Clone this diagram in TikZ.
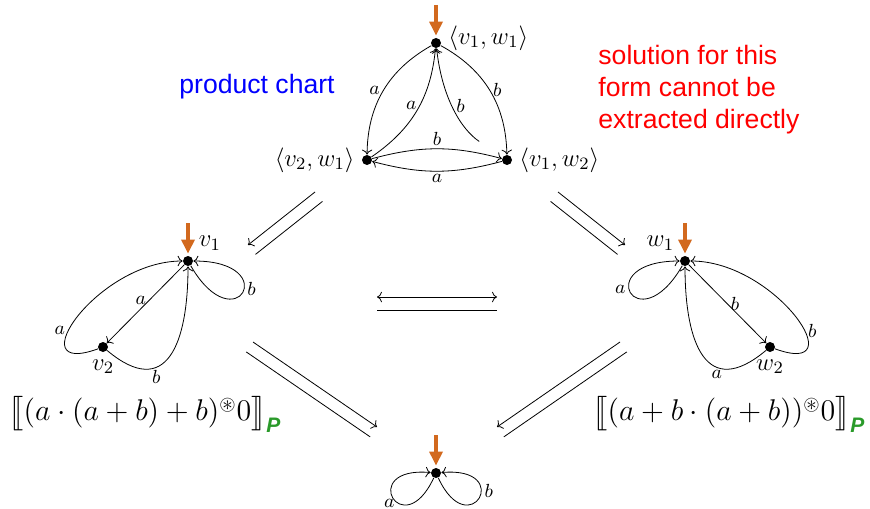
\RequirePackage{fix-cm}
\documentclass[tikz,border=0pt]{standalone}
\usepackage{amsmath,amssymb,stmaryrd}
\usepackage{fontspec}
\setsansfont{Liberation Sans}
\usepackage{xcolor}
\usepackage{tikz}
\usetikzlibrary{arrows.meta,calc}
\definecolor{PCOrange}{HTML}{D2691E}
\definecolor{PCGreen} {HTML}{2A9A2A}
\definecolor{PCBlue}  {HTML}{0000FF}
\definecolor{PCRed}   {HTML}{FF0000}
\newcommand{\pmark}{\text{\sffamily\bfseries\itshape\color{PCGreen}P}}

\begin{document}
\begin{tikzpicture}[x=0.5pt,y=-0.5pt,
    state/.style={circle,fill=black,inner sep=0pt,minimum size=5pt},
    init/.style={PCOrange,line width=1.6pt,-{Triangle[width=6.5pt,length=7pt]},shorten >=1pt},
    tr/.style={->},
    lbl/.style={font=\fontsize{9.5}{11}\selectfont,inner sep=1.5pt},
    nlbl/.style={font=\fontsize{12.4}{15}\selectfont},
    sol/.style={font=\fontsize{15}{18}\selectfont},
    note/.style={font=\sffamily\fontsize{13.3}{16}\selectfont},
  ]
  \useasboundingbox (0,0) rectangle (870,508);

  % product chart
  \node[state,label={[nlbl,yshift=2.5pt]right:$\langle v_1,w_1\rangle$}] (n11) at (436,43) {};
  \node[state,label={[nlbl]left:$\langle v_2,w_1\rangle$}] (n21) at (367,160) {};
  \node[state,label={[nlbl]right:$\langle v_1,w_2\rangle$}] (n12) at (507,160) {};
  \draw[init] ([yshift=19pt]n11.center) -- (n11);
  \draw[tr] (n11) to[bend right=30] node[lbl,left] {$a$} (n21);
  \draw[tr] (n21) to[bend right=25] node[lbl,left,pos=.55] {$a$} (n11);
  \draw[tr,shorten <=14pt] (n12) to[bend left=25] node[lbl,right,pos=.55] {$b$} (n11);
  \draw[tr] (n11) to[bend left=30] node[lbl,right] {$b$} (n12);
  \draw[tr] (n21) to[bend left=15] node[lbl,above] {$b$} (n12);
  \draw[tr] (n12) to[bend left=15] node[lbl,below] {$a$} (n21);

  % left chart
  \node[state,label={[nlbl]above right:$v_1$}] (v1) at (188,261) {};
  \node[state,label={[nlbl]below:$v_2$}] (v2) at (103,347) {};
  \draw[init] ([yshift=19pt]v1.center) -- (v1);
  \draw[tr] (v1) -- node[lbl,left,pos=.45] {$a$} (v2);
  \draw[tr] (v2) to[out=200,in=180,looseness=1.8] node[lbl,left,pos=.4] {$a$} (v1);
  \draw[tr] (v2) to[out=-40,in=-90,looseness=1.7] node[lbl,below,pos=.35] {$b$} (v1);
  \draw[tr] (v1) to[out=-60,in=0,min distance=45pt] node[lbl,right,pos=.55] {$b$} (v1);

  % right chart
  \node[state,label={[nlbl]above left:$w_1$}] (w1) at (685,261) {};
  \node[state,label={[nlbl]below:$w_2$}] (w2) at (770,347) {};
  \draw[init] ([yshift=19pt]w1.center) -- (w1);
  \draw[tr] (w1) -- node[lbl,right] {$b$} (w2);
  \draw[tr] (w2) to[out=-20,in=0,looseness=1.8] node[lbl,right,pos=.4] {$b$} (w1);
  \draw[tr] (w2) to[out=220,in=270,looseness=1.7] node[lbl,below,pos=.35] {$a$} (w1);
  \draw[tr] (w1) to[out=240,in=180,min distance=45pt] node[lbl,left,pos=.55] {$a$} (w1);

  % result
  \node[state] (r0) at (436,473) {};
  \draw[init] ([yshift=19pt]r0.center) -- (r0);
  \draw[tr] (r0) to[out=245,in=175,min distance=37pt] node[lbl,left,pos=.4] {$a$} (r0);
  \draw[tr] (r0) to[out=-65,in=5,min distance=37pt] node[lbl,right,pos=.6] {$b$} (r0);

  % implications
  \coordinate (ulA) at (315,192); \coordinate (ulB) at (248,245);
  \coordinate (urA) at (558,192); \coordinate (urB) at (625,245);
  \coordinate (llA) at (253,342); \coordinate (llB) at (377,427);
  \coordinate (lrA) at (620,342); \coordinate (lrB) at (497,427);
  \coordinate (mA) at (377,297);  \coordinate (mB) at (497,297);
  \draw[->] (ulA) -- (ulB);
  \draw ($(ulA)!6pt!90:(ulB)$) -- ($(ulB)!6pt!-90:(ulA)$);
  \draw[->] (urA) -- (urB);
  \draw ($(urA)!6pt!-90:(urB)$) -- ($(urB)!6pt!90:(urA)$);
  \draw[->] (llA) -- (llB);
  \draw ($(llA)!6pt!-90:(llB)$) -- ($(llB)!6pt!90:(llA)$);
  \draw[->] (lrA) -- (lrB);
  \draw ($(lrA)!6pt!90:(lrB)$) -- ($(lrB)!6pt!-90:(lrA)$);
  \draw[<->] (mA) -- (mB);
  \draw ($(mA)!6.5pt!-90:(mB)$) -- ($(mB)!6.5pt!90:(mA)$);

  % texts
  \node[note,text=PCBlue] (title) at (257,87) {product chart};
  \node[note,text=PCRed,align=left,anchor=north west,inner sep=0pt] (remark) at (598,45)
    {solution for this\\form cannot be\\extracted directly};
  \node[sol] (solL) at (145,414) {$\bigl\llbracket (a\cdot(a+b)+b)^{\circledast}0\bigr\rrbracket_{\pmark}$};
  \node[sol] (solR) at (729,414) {$\bigl\llbracket (a+b\cdot(a+b))^{\circledast}0\bigr\rrbracket_{\pmark}$};
\end{tikzpicture}
\end{document}
